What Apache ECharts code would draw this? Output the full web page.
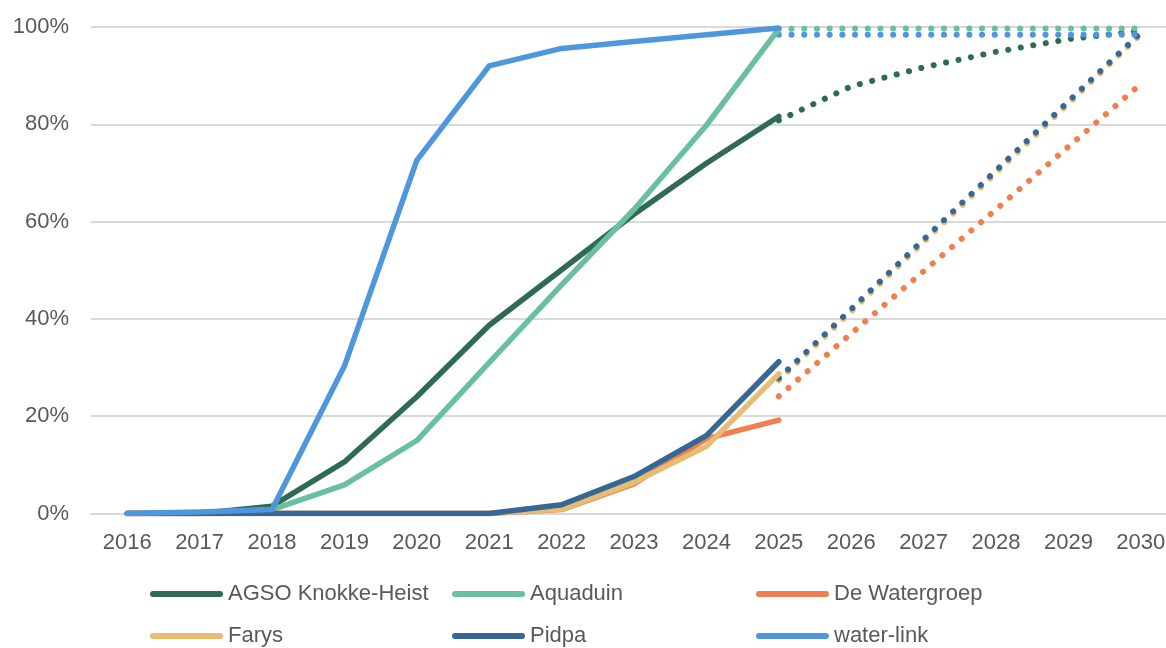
<!DOCTYPE html>
<html>
<head>
<meta charset="utf-8">
<script src="https://cdn.jsdelivr.net/npm/echarts@6/dist/echarts.min.js"></script>
<style>
html,body{margin:0;padding:0;background:#fff;overflow:hidden;width:1166px;height:648px;}
#chart{width:1186px;height:648px;}
</style>
</head>
<body>
<div id="chart"></div>
<script>
// Categories
const years = ['2016','2017','2018','2019','2020','2021','2022','2023','2024','2025','2026','2027','2028','2029','2030'];
const yTicks = [0, 20, 40, 60, 80, 100];

// Realised values 2016-2025 (%)
const agso       = [0, 0, 1.5, 10.6, 24, 38.7, 50.1, 61.5, 72, 81.6];
const aquaduin   = [0, 0, 0.8, 5.9, 15, 31, 47, 62.5, 79.8, 99.6];
const watergroep = [0, 0, 0, 0, 0, 0, 0.8, 6.1, 15.4, 19.2];
const farys      = [0, 0, 0, 0, 0, 0, 0.9, 6.4, 13.8, 28.7];
const pidpa      = [0, 0, 0, 0, 0, 0, 1.8, 7.6, 16, 31.2];
const waterlink  = [0, 0.3, 0.8, 30.3, 72.6, 92, 95.6, 97, 98.4, 99.8];

// Projections 2025-2030 (%)
const agsoP       = [80.8, 87.8, 91.7, 94.9, 97.5, 99.2];
const aquaduinP   = [99.6, 99.7, 99.7, 99.7, 99.7, 99.7];
const watergroepP = [24.1, 37, 49.8, 62.5, 75.4, 88.3];
const farysP      = [27.4, 41.5, 55.8, 70, 84.2, 98.5];
const pidpaP      = [27.8, 42, 56.3, 70.5, 84.7, 98.8];
const waterlinkP  = [98.4, 98.4, 98.4, 98.4, 98.4, 98.4];

const names  = ['AGSO Knokke-Heist', 'Aquaduin', 'De Watergroep', 'Farys', 'Pidpa', 'water-link'];
const colors = ['#2E6B52', '#6ABF9E', '#F07F4F', '#E8BD72', '#376893', '#4E97DD'];
const actual = [agso, aquaduin, watergroep, farys, pidpa, waterlink];
const proj   = [agsoP, aquaduinP, watergroepP, farysP, pidpaP, waterlinkP];

const startProj = years.indexOf('2025');
function padActual(a){ return years.map((y,i)=> i < a.length ? a[i] : null); }
function padProj(a){ return years.map((y,i)=> i >= startProj ? a[i-startProj] : null); }

const series = [];
names.forEach((n,k)=>{
  series.push({
    name: n, type: 'line', data: padActual(actual[k]), symbol: 'none',
    lineStyle: {color: colors[k], width: 5.5, join: 'round', cap: 'round'},
    itemStyle: {color: colors[k]},
    z: 3, silent: true
  });
});
names.forEach((n,k)=>{
  series.push({
    name: n + ' (prognose)', type: 'line', data: padProj(proj[k]), symbol: 'none',
    lineStyle: {color: colors[k], width: 6, type: [0.1, 12.6], cap: 'round'},
    itemStyle: {color: colors[k]},
    z: 2, silent: true
  });
});

const iconPath = 'path://M3,0 L70,0 A3,3 0 0 1 70,6 L3,6 A3,3 0 0 1 3,0 Z';
const legendPos = [[150,581],[452,581],[756,581],[150,623],[452,623],[756,623]];
const legends = names.map((n,k)=>({
  data: [n], left: legendPos[k][0], top: legendPos[k][1],
  orient: 'horizontal', padding: 0, itemGap: 0,
  itemWidth: 73, itemHeight: 6, icon: iconPath,
  selectedMode: false,
  textStyle: {fontSize: 22, color: '#595959', fontFamily: 'Liberation Sans, Arial, sans-serif', lineHeight: 26}
}));

const chart = echarts.init(document.getElementById('chart'), null, {renderer: 'canvas'});
chart.setOption({
  animation: false,
  backgroundColor: '#fff',
  textStyle: {fontFamily: 'Liberation Sans, Arial, sans-serif'},
  grid: {left: 91, right: 9, top: 27, bottom: 134.5, containLabel: false},
  legend: legends,
  xAxis: {
    type: 'category', data: years, boundaryGap: true,
    axisTick: {show: false},
    axisLine: {show: true, lineStyle: {color: '#D9D9D9', width: 2}},
    axisLabel: {fontSize: 22, color: '#595959', margin: 18, interval: 0}
  },
  yAxis: {
    type: 'value', min: yTicks[0], max: yTicks[yTicks.length-1], interval: 20,
    axisLine: {show: false}, axisTick: {show: false},
    splitLine: {show: true, lineStyle: {color: '#D9D9D9', width: 2}},
    axisLabel: {fontSize: 22, color: '#595959', margin: 22, formatter: '{value}%'}
  },
  series: series
});
</script>
</body>
</html>
